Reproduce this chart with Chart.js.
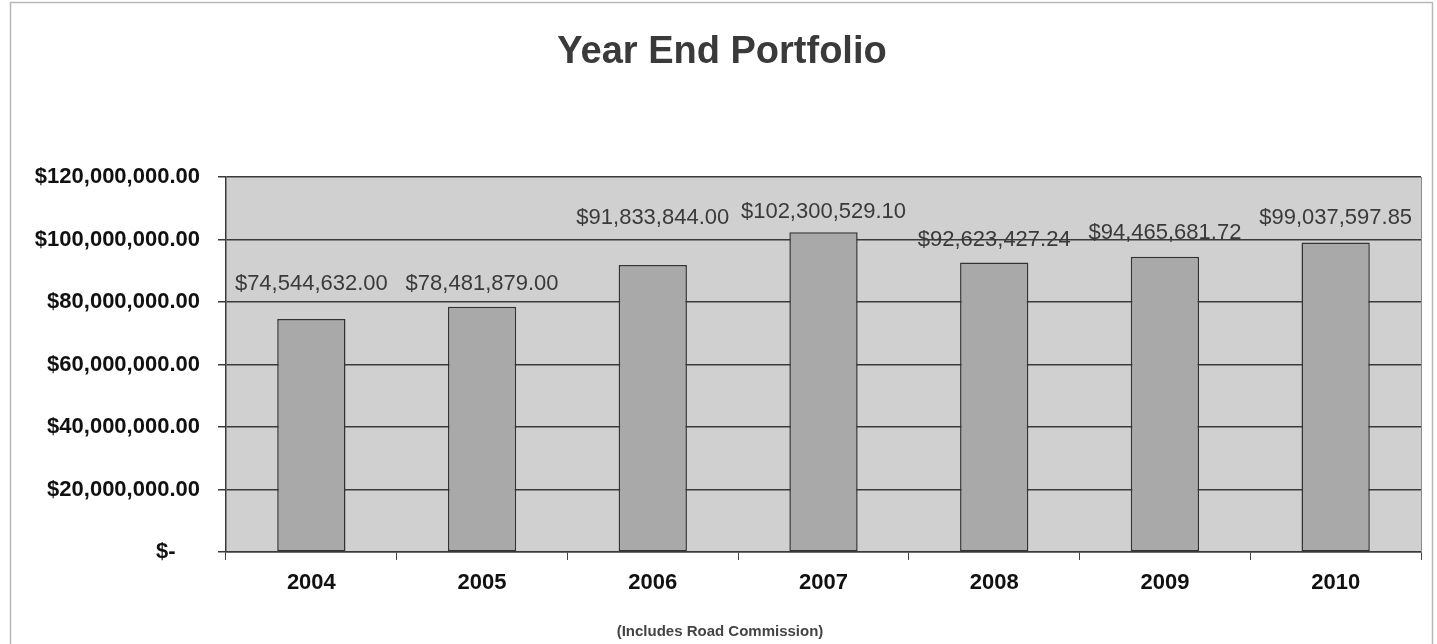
<!DOCTYPE html>
<html>
<head>
<meta charset="utf-8">
<title>Year End Portfolio</title>
<script src="https://cdn.jsdelivr.net/npm/chart.js@4"></script>
<style>
    html, body {
        margin: 0;
        padding: 0;
        background: #ffffff;
    }
    .chart-box {
        position: relative;
        width: 1437px;
        height: 644px;
    }
</style>
</head>
<body>
<div class="chart-box">
    <canvas id="portfolio-chart" width="1437" height="644"></canvas>
</div>
<script>
// Data
const years = ['2004', '2005', '2006', '2007', '2008', '2009', '2010'];
const portfolioValues = [74544632.00, 78481879.00, 91833844.00, 102300529.10, 92623427.24, 94465681.72, 99037597.85];
const valueLabels = ['$74,544,632.00', '$78,481,879.00', '$91,833,844.00', '$102,300,529.10', '$92,623,427.24', '$94,465,681.72', '$99,037,597.85'];
const yTickValues = [0, 20000000, 40000000, 60000000, 80000000, 100000000, 120000000];
const yTickLabels = ['$-    ', '$20,000,000.00', '$40,000,000.00', '$60,000,000.00', '$80,000,000.00', '$100,000,000.00', '$120,000,000.00'];

const chartTitle = 'Year End Portfolio';
const chartNote = '(Includes Road Commission)';

// how far each value label sits above its bar (labels were placed by hand in the original)
const labelLift = [35, 23, 47, 20, 23, 24, 25];

const FONT = 'Arial, "Liberation Sans", sans-serif';

// grey plot area + outer frame, title and note
const decorPlugin = {
    id: 'decor',
    beforeDraw(chart) {
        const { ctx, chartArea } = chart;
        ctx.save();
        ctx.fillStyle = '#ffffff';
        ctx.fillRect(0, 0, chart.width, chart.height);
        ctx.strokeStyle = '#b8b8b8';
        ctx.lineWidth = 1.5;
        ctx.strokeRect(10.5, 2.5, 1422, 700);
        ctx.fillStyle = '#d0d0d0';
        ctx.fillRect(chartArea.left, chartArea.top, chartArea.right - chartArea.left, chartArea.bottom - chartArea.top);
        ctx.restore();
    },
    afterDraw(chart) {
        const { ctx, chartArea } = chart;
        ctx.save();
        ctx.strokeStyle = '#8a8a8a';
        ctx.lineWidth = 1;
        ctx.beginPath();
        ctx.moveTo(chartArea.right + 0.5, chartArea.top);
        ctx.lineTo(chartArea.right + 0.5, chartArea.bottom);
        ctx.stroke();

        ctx.textAlign = 'center';
        ctx.textBaseline = 'middle';
        ctx.fillStyle = '#3a3a3a';
        ctx.font = 'bold 38px ' + FONT;
        ctx.fillText(chartTitle, 722, 53);
        ctx.font = 'bold 15px ' + FONT;
        ctx.fillStyle = '#444444';
        ctx.fillText(chartNote, 720, 632);
        ctx.restore();
    }
};

const valueLabelPlugin = {
    id: 'valueLabels',
    afterDatasetsDraw(chart) {
        const { ctx } = chart;
        const meta = chart.getDatasetMeta(0);
        ctx.save();
        ctx.font = '22px ' + FONT;
        ctx.fillStyle = '#3a3a3a';
        ctx.textAlign = 'center';
        ctx.textBaseline = 'middle';
        meta.data.forEach((bar, i) => {
            ctx.fillText(valueLabels[i], bar.x, bar.y - labelLift[i]);
        });
        ctx.restore();
    }
};

function initChart() {
    const ctx = document.getElementById('portfolio-chart').getContext('2d');
    window.portfolioChart = new Chart(ctx, {
        type: 'bar',
        data: {
            labels: years,
            datasets: [{
                label: 'Year End Portfolio',
                data: portfolioValues,
                backgroundColor: '#a9a9a9',
                borderColor: '#333333',
                borderWidth: 1.5,
                borderSkipped: false,
                barPercentage: 0.4,
                categoryPercentage: 1.0
            }]
        },
        options: {
            responsive: false,
            animation: false,
            layout: {
                padding: { top: 177, right: 16, bottom: 0, left: 0 }
            },
            plugins: {
                legend: { display: false },
                title: { display: false },
                tooltip: { enabled: false }
            },
            scales: {
                x: {
                    offset: true,
                    grid: {
                        display: true,
                        drawOnChartArea: false,
                        offset: true,
                        tickLength: 8,
                        color: '#444444',
                        lineWidth: 1
                    },
                    border: { display: true, color: '#3a3a3a', width: 1.5 },
                    ticks: {
                        color: '#111111',
                        font: { family: FONT, size: 22, weight: 'bold' },
                        padding: 10
                    },
                    afterFit(scale) {
                        scale.height = 92;
                    }
                },
                y: {
                    min: 0,
                    max: 120000000,
                    afterBuildTicks(scale) {
                        scale.ticks = yTickValues.map(v => ({ value: v }));
                    },
                    grid: {
                        color: '#3a3a3a',
                        lineWidth: 1.5,
                        tickLength: 8
                    },
                    border: { display: true, color: '#3a3a3a', width: 1.5 },
                    ticks: {
                        color: '#111111',
                        font: { family: FONT, size: 22, weight: 'bold' },
                        padding: 18,
                        callback(value) {
                            const i = yTickValues.indexOf(value);
                            return i >= 0 ? yTickLabels[i] : '';
                        }
                    },
                    afterFit(scale) {
                        scale.width = 226;
                    }
                }
            }
        },
        plugins: [decorPlugin, valueLabelPlugin]
    });
}

window.onload = initChart;
</script>
</body>
</html>
